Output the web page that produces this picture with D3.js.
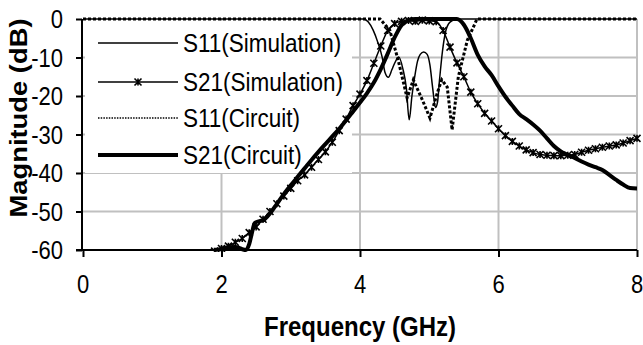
<!DOCTYPE html>
<html lang="en">
<head>
  <meta charset="UTF-8" />
  <title>Magnitude vs frequency</title>
  <script src="https://d3js.org/d3.v7.min.js"></script>
  <style>
    body { margin: 0; background: #fff; }
    svg { display: block; font-family: "Liberation Sans", Arial, sans-serif; }
  </style>
</head>
<body>
  <svg width="643" height="345" id="chart"></svg>

  <script>
    // values (GHz / dB)
    const s11SimFreq = [0, 4.05, 4.12, 4.19, 4.26, 4.32, 4.36, 4.41, 4.46, 4.5, 4.56, 4.62, 4.67, 4.71, 4.75, 4.79, 4.83, 4.87, 4.92, 4.97, 5.01, 5.05, 5.09, 5.12, 5.15, 5.19, 5.24, 5.3, 5.4, 8];
    const s11SimDb = [0, 0, -0.8, -2.9, -6.2, -9.9, -13.8, -15.1, -13.2, -11.5, -9.9, -13, -18, -26.2, -20, -15, -11, -9.2, -8.6, -9.2, -12, -18, -23, -21.5, -15.5, -8.5, -3, -0.8, 0, 0];

    const s21SimFreq = [1.9, 2.0, 2.1, 2.2, 2.3, 2.4, 2.5, 2.6, 2.7, 2.8, 2.9, 3.0, 3.1, 3.2, 3.3, 3.4, 3.5, 3.6, 3.7, 3.8, 3.9, 4.0,
      4.1, 4.2, 4.3, 4.4, 4.5, 4.6, 4.7, 4.8, 4.9, 5.0, 5.1, 5.2, 5.3, 5.4, 5.5, 5.6, 5.7, 5.8, 5.9, 6.0,
      6.1, 6.2, 6.3, 6.4, 6.5, 6.6, 6.7, 6.8, 6.9, 7.0, 7.1, 7.2, 7.3, 7.4, 7.5, 7.6, 7.7, 7.8, 7.9, 8.0];
    const s21SimDb = [-60.3, -59.6, -59, -58, -57, -55.5, -54, -52, -50, -48, -46, -44, -42, -40.5, -38.5, -36.5, -34.5, -32, -29, -26, -22.5, -19.5,
      -16, -11.5, -7, -3, -1.2, -0.6, -0.4, -0.6, -0.3, -0.5, -0.7, -3, -7.3, -11.4, -15, -19, -22, -24.5, -26.5, -28.5,
      -30.3, -31.8, -33, -34, -34.7, -35.2, -35.4, -35.5, -35.5, -35.4, -35.2, -34.6, -34.1, -33.7, -33.3, -33, -32.7, -32.2, -31.6, -31];

    const s11CircuitFreq = [0, 4.29, 4.43, 4.55, 4.68, 4.77, 4.9, 5.01, 5.12, 5.18, 5.26, 5.33, 5.42, 5.55, 5.69, 8];
    const s11CircuitDb = [0, 0, -2.9, -10.6, -20.5, -15.8, -21, -25.7, -19, -15.8, -17.7, -28.8, -15, -5.5, 0, 0];

    const s21CircuitFreq = [1.9, 2.0, 2.1, 2.2, 2.3, 2.35, 2.4, 2.44, 2.48, 2.55, 2.6, 2.7, 2.8, 2.9, 3.0, 3.1, 3.2, 3.3, 3.4, 3.5,
      3.6, 3.7, 3.8, 3.9, 4.0, 4.1, 4.2, 4.3, 4.4, 4.5, 4.6, 4.7, 4.8, 5.0, 5.2, 5.4, 5.5, 5.6, 5.7, 5.8, 5.9, 6.0,
      6.1, 6.2, 6.3, 6.4, 6.5, 6.6, 6.7, 6.8, 6.9, 7.0, 7.1, 7.2, 7.3, 7.4, 7.5, 7.6, 7.7, 7.8, 7.9, 8.0];
    const s21CircuitDb = [-60, -59.7, -59.3, -59.2, -59.8, -60, -58.5, -55.5, -53, -52.5, -52.3, -50.5, -48, -45.5, -43.2, -41, -38.8, -36.6, -34.5, -32.5,
      -30.5, -28.5, -26.3, -24, -21.7, -19.3, -16.5, -13, -9, -4.8, -1.6, -0.3, 0, 0, 0, 0, -1.5, -5, -9.3, -12.3, -14.6, -17.5,
      -20.2, -22.5, -24.7, -26, -27.4, -29, -31, -33, -34.4, -35.3, -36.1, -37, -37.8, -38.5, -39.2, -40.5, -41.8, -43, -43.9, -44];

    const xTicks = [0, 2, 4, 6, 8];
    const yTicks = [0, -10, -20, -30, -40, -50, -60];
    const legendLabels = ["S11(Simulation)", "S21(Simulation)", "S11(Circuit)", "S21(Circuit)"];

    const svg = d3.select("#chart");
    const x = d3.scaleLinear().domain([0, 8]).range([83, 637]);
    const y = d3.scaleLinear().domain([-60, 0]).range([250, 19]);
    const stretch = 1.14; // source picture is stretched vertically, text too

    const zip = (f, v) => f.map((d, i) => ({ f: d, v: v[i] }));

    // gridlines
    svg.append("g").selectAll("line")
      .data(yTicks.filter(d => d < 0 && d > -60))
      .enter().append("line")
      .attr("x1", x(0)).attr("x2", x(8))
      .attr("y1", d => y(d)).attr("y2", d => y(d))
      .attr("stroke", "#c0c0c0").attr("stroke-width", 2);
    svg.append("g").selectAll("line")
      .data(xTicks.filter(d => d > 0))
      .enter().append("line")
      .attr("x1", d => x(d)).attr("x2", d => x(d))
      .attr("y1", y(0)).attr("y2", y(-60))
      .attr("stroke", "#c0c0c0").attr("stroke-width", 2);

    // legend box hides the grid behind it
    svg.append("rect")
      .attr("x", 85).attr("y", 21).attr("width", 267).attr("height", 152)
      .attr("fill", "#fff");

    // axes
    const yAxis = svg.append("g")
      .attr("transform", `translate(${x(0) - 1},0)`)
      .call(d3.axisLeft(y).tickValues(yTicks).tickSize(6).tickSizeOuter(0).tickFormat(""));
    const xAxis = svg.append("g")
      .attr("transform", `translate(0,${y(-60)})`)
      .call(d3.axisBottom(x).tickValues(xTicks).tickSize(7).tickSizeOuter(0).tickFormat(""));
    svg.selectAll(".domain, .tick line").attr("stroke", "#000").attr("stroke-width", 2);
    svg.select(".domain").attr("d", `M0,${y(0)}V${y(-60)}`);
    xAxis.select(".domain").attr("d", `M${x(0) - 7},0H${x(8)}`);

    svg.append("g").selectAll("text")
      .data(yTicks)
      .enter().append("text")
      .attr("transform", d => `translate(63,${y(d) + 9}) scale(1,${stretch})`)
      .attr("text-anchor", "end")
      .attr("font-size", 22)
      .text(d => d);
    svg.append("g").selectAll("text")
      .data(xTicks)
      .enter().append("text")
      .attr("transform", d => `translate(${x(d)},293) scale(1,${stretch})`)
      .attr("text-anchor", "middle")
      .attr("font-size", 22)
      .text(d => d);

    svg.append("text")
      .attr("transform", `translate(360,336) scale(1,${stretch})`)
      .attr("text-anchor", "middle")
      .attr("font-size", 24).attr("font-weight", "bold")
      .text("Frequency (GHz)");
    svg.append("text")
      .attr("transform", `translate(27,118) rotate(-90) scale(${stretch},1)`)
      .attr("text-anchor", "middle")
      .attr("font-size", 24).attr("font-weight", "bold")
      .text("Magnitude (dB)");

    // curves
    svg.append("clipPath").attr("id", "plot")
      .append("rect").attr("x", x(0)).attr("y", y(0) - 4).attr("width", x(8) - x(0) + 4).attr("height", y(-60) - y(0) + 6);
    const plot = svg.append("g").attr("clip-path", "url(#plot)");

    const smooth = d3.line().x(d => x(d.f)).y(d => y(d.v)).curve(d3.curveMonotoneX);
    const straight = d3.line().x(d => x(d.f)).y(d => y(d.v));

    plot.append("path")
      .attr("d", smooth(zip(s21CircuitFreq, s21CircuitDb)))
      .attr("fill", "none").attr("stroke", "#000").attr("stroke-width", 4);
    plot.append("path")
      .attr("d", smooth(zip(s21SimFreq, s21SimDb)))
      .attr("fill", "none").attr("stroke", "#000").attr("stroke-width", 1.5);
    const star = "M-3.5,-3.5L3.5,3.5M-3.5,3.5L3.5,-3.5M0,-3.5V3.5";
    plot.append("g").selectAll("path")
      .data(zip(s21SimFreq, s21SimDb))
      .enter().append("path")
      .attr("transform", d => `translate(${x(d.f)},${y(d.v)})`)
      .attr("d", star)
      .attr("stroke", "#000").attr("stroke-width", 1.6);
    plot.append("path")
      .attr("d", smooth(zip(s11SimFreq, s11SimDb)))
      .attr("fill", "none").attr("stroke", "#000").attr("stroke-width", 1.5);
    plot.append("path")
      .attr("d", straight(zip(s11CircuitFreq, s11CircuitDb)))
      .attr("fill", "none").attr("stroke", "#000").attr("stroke-width", 3)
      .attr("stroke-dasharray", "3,2");

    // legend
    const rows = [43, 82, 118, 155];
    const styles = [
      { w: 1.5, dash: null, marker: false },
      { w: 1.5, dash: null, marker: true },
      { w: 1.5, dash: "1.5,1.2", marker: false },
      { w: 4, dash: null, marker: false }
    ];
    const legend = svg.append("g");
    legendLabels.forEach((label, i) => {
      legend.append("line")
        .attr("x1", 98).attr("x2", 178)
        .attr("y1", rows[i]).attr("y2", rows[i])
        .attr("stroke", "#000").attr("stroke-width", styles[i].w)
        .attr("stroke-dasharray", styles[i].dash);
      if (styles[i].marker) {
        legend.append("path")
          .attr("transform", `translate(138,${rows[i]})`)
          .attr("d", star)
          .attr("stroke", "#000").attr("stroke-width", 1.6);
      }
      legend.append("text")
        .attr("transform", `translate(183,${rows[i] + 9}) scale(1,${stretch})`)
        .attr("font-size", 22.5)
        .text(label);
    });
  </script>
</body>
</html>
